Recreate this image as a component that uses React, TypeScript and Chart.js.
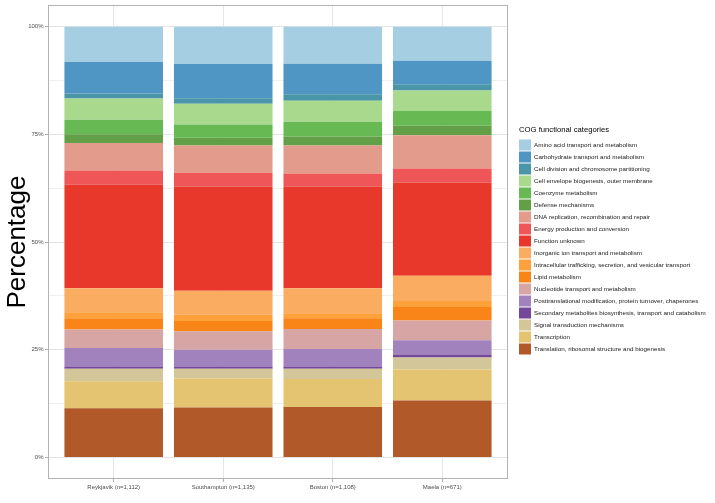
import { useEffect, useRef } from 'react';
import { Chart, registerables } from 'chart.js';

Chart.register(...registerables);

const FONT = "'Liberation Sans', Arial, Helvetica, sans-serif";

const categories = ['Reykjavik (n=1,112)', 'Southampton (n=1,135)', 'Boston (n=1,108)', 'Maela (n=671)'];

const legendTitle = 'COG functional categories';

const cogCategories = [
  'Amino acid transport and metabolism',
  'Carbohydrate transport and metabolism',
  'Cell division and chromosome partitioning',
  'Cell envelope biogenesis, outer membrane',
  'Coenzyme metabolism',
  'Defense mechanisms',
  'DNA replication, recombination and repair',
  'Energy production and conversion',
  'Function unknown',
  'Inorganic ion transport and metabolism',
  'Intracellular trafficking, secretion, and vesicular transport',
  'Lipid metabolism',
  'Nucleotide transport and metabolism',
  'Posttranslational modification, protein turnover, chaperones',
  'Secondary metabolites biosynthesis, transport and catabolism',
  'Signal transduction mechanisms',
  'Transcription',
  'Translation, ribosomal structure and biogenesis',
];

const cogColors = [
  '#a6cee3', '#4f96c5', '#4a96a8', '#a9d98c', '#67ba53', '#629f46',
  '#e39b8c', '#ee5657', '#e8372b', '#faac60', '#fea13b', '#f98519',
  '#d7a6a4', '#a282bd', '#73489a', '#d3c699', '#e4c471', '#b15928',
];

// percentages per location, in legend order
const reykjavik = [8.2, 7.3, 1.2, 4.9, 3.4, 2.0, 6.4, 3.3, 24.0, 5.6, 1.4, 2.6, 4.3, 4.3, 0.5, 2.9, 6.3, 11.4];
const southampton = [8.7, 7.9, 1.3, 4.8, 3.1, 1.8, 6.3, 3.2, 24.2, 5.6, 1.4, 2.4, 4.3, 3.9, 0.5, 2.3, 6.7, 11.6];
const boston = [8.6, 7.1, 1.5, 4.9, 3.4, 2.1, 6.5, 3.0, 23.6, 5.8, 1.2, 2.5, 4.6, 4.1, 0.5, 2.4, 6.5, 11.7];
const maela = [7.9, 5.5, 1.4, 4.8, 3.4, 2.2, 7.7, 3.3, 21.6, 5.9, 1.4, 3.1, 4.6, 3.4, 0.6, 2.8, 7.2, 13.2];

const yMajorTicks = [0, 25, 50, 75, 100];
const yMinorTicks = [12.5, 37.5, 62.5, 87.5];

const panelBorder = {
  id: 'panelBorder',
  afterDraw(chart: any) {
    const { ctx, chartArea } = chart;
    const l = Math.round(chartArea.left) + 0.5;
    const t = Math.round(chartArea.top) + 0.5;
    const r = Math.round(chartArea.right) - 0.5;
    const b = Math.round(chartArea.bottom) - 0.5;
    ctx.save();
    ctx.strokeStyle = '#b3b3b3';
    ctx.lineWidth = 1;
    ctx.strokeRect(l, t, r - l, b - t);
    ctx.restore();
  },
};

const cogLegend = {
  id: 'cogLegend',
  afterDraw(chart: any) {
    const { ctx, chartArea } = chart;
    const x0 = Math.round(chartArea.right) + 11;
    ctx.save();
    ctx.textAlign = 'left';
    ctx.textBaseline = 'middle';
    ctx.fillStyle = '#000';
    ctx.font = `7.7px ${FONT}`;
    ctx.fillText(legendTitle, x0, 130);
    const items = [...chart.data.datasets].reverse();
    items.forEach((ds: any, i: number) => {
      const cy = 145 + i * 12;
      ctx.fillStyle = ds.backgroundColor;
      ctx.fillRect(x0, cy - 5.5, 12, 11);
      ctx.fillStyle = '#1a1a1a';
      ctx.font = `6.25px ${FONT}`;
      ctx.fillText(ds.label, x0 + 15, cy);
    });
    ctx.restore();
  },
};

export default function App() {
  const ref = useRef<HTMLCanvasElement>(null);
  useEffect(() => {
    const canvas = ref.current!;
    const series = [reykjavik, southampton, boston, maela];
    const datasets = cogCategories
      .map((name, k) => ({
        label: name,
        data: series.map((s, i) => ({ x: i + 1, y: s[k] })),
        backgroundColor: cogColors[k],
        borderWidth: 0,
        categoryPercentage: 1,
        barPercentage: 0.9,
      }))
      .reverse();

    const chart = new Chart(canvas, {
      type: 'bar',
      data: { datasets } as any,
      options: {
        animation: false,
        responsive: false,
        layout: { padding: { left: 0, right: 207, top: 5, bottom: 0 } },
        plugins: { legend: { display: false }, tooltip: { enabled: false } },
        scales: {
          x: {
            type: 'linear',
            stacked: true,
            offset: false,
            min: 0.4,
            max: 4.6,
            afterBuildTicks: (axis: any) => {
              axis.ticks = categories.map((_, i) => ({ value: i + 1 }));
            },
            afterFit: (axis: any) => {
              axis.height = 24;
            },
            grid: {
              offset: false,
              color: '#e6e6e6',
              lineWidth: 1,
              tickLength: 3,
              tickColor: '#b3b3b3',
            },
            border: { display: false },
            ticks: {
              callback: (v: any) => categories[Math.round(Number(v)) - 1] ?? '',
              font: { size: 6, family: FONT },
              color: '#4d4d4d',
              padding: 2,
              maxRotation: 0,
              autoSkip: false,
            },
          },
          y: {
            stacked: true,
            min: -5,
            max: 105,
            afterBuildTicks: (axis: any) => {
              axis.ticks = [...yMajorTicks, ...yMinorTicks].sort((a, b) => a - b).map((v) => ({ value: v }));
            },
            afterFit: (axis: any) => {
              axis.width = 48;
            },
            grid: {
              color: (c: any) => (yMajorTicks.includes(c.tick?.value) ? '#e3e3e3' : '#efefef'),
              lineWidth: 1,
              tickLength: 3,
              tickColor: (c: any) => (yMajorTicks.includes(c.tick?.value) ? '#b3b3b3' : 'rgba(0,0,0,0)'),
            },
            border: { display: false },
            ticks: {
              callback: (v: any) => (yMajorTicks.includes(Number(v)) ? `${v}%` : ''),
              font: { size: 6, family: FONT },
              color: '#4d4d4d',
              padding: 1.5,
            },
            title: {
              display: true,
              text: 'Percentage',
              font: { size: 26, family: FONT },
              color: '#000',
              padding: 2,
            },
          },
        },
      } as any,
      plugins: [panelBorder, cogLegend],
    });
    return () => chart.destroy();
  }, []);
  return (
    <canvas
      ref={ref}
      width={715}
      height={503}
      style={{ position: 'absolute', left: 0, top: 0, width: 715, height: 503 }}
    />
  );
}
